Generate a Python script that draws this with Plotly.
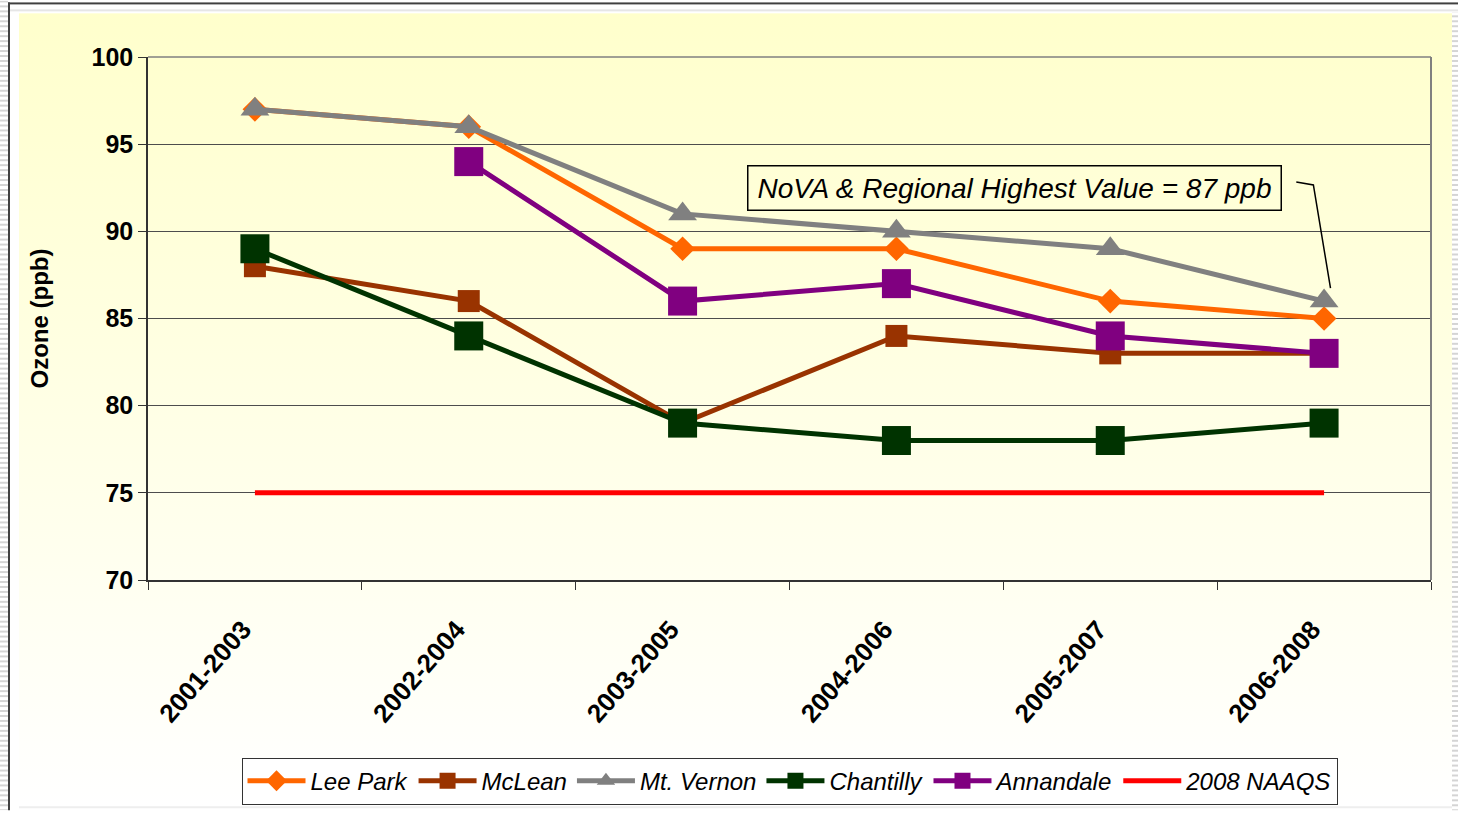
import base64
import plotly.graph_objects as go

periods = ["2001-2003", "2002-2004", "2003-2005", "2004-2006", "2005-2007", "2006-2008"]
lee_park = [97, 96, 89, 89, 86, 85]
mclean = [88, 86, 79, 84, 83, 83]
mt_vernon = [97, 96, 91, 90, 89, 86]
chantilly = [89, 84, 79, 78, 78, 79]
annandale = [None, 94, 86, 87, 84, 83]
naaqs = [75, 75, 75, 75, 75, 75]
y_ticks = [70, 75, 80, 85, 90, 95, 100]

W, H = 1458, 816
ML, MR, MT, MB = 148, 27, 57, 232
PW, PH = W - ML - MR, H - MT - MB

FONT = "Liberation Sans, Arial, sans-serif"

svg = f'''<svg xmlns="http://www.w3.org/2000/svg" width="{W}" height="{H}" viewBox="0 0 {W} {H}" preserveAspectRatio="none">
<defs>
<linearGradient id="g" x1="0" y1="0" x2="0" y2="1">
<stop offset="0" stop-color="#FFFFCC"/>
<stop offset="1" stop-color="#FFFFFF"/>
</linearGradient>
<pattern id="s" x="0" y="0" width="10" height="5" patternUnits="userSpaceOnUse">
<rect x="0" y="0" width="10" height="2" fill="#D4D4D4"/>
</pattern>
</defs>
<rect x="0" y="0" width="{W}" height="{H}" fill="#FFFFFF"/>
<rect x="0" y="0" width="8" height="{H}" fill="url(#s)"/>
<rect x="1452" y="12" width="6" height="{H}" fill="url(#s)"/>
<rect x="8" y="2" width="{W-8}" height="2" fill="#404040"/>
<rect x="8" y="2" width="2" height="{H}" fill="#404040"/>
<rect x="10" y="9" width="{W-10}" height="2" fill="#E6E6E6"/>
<rect x="19" y="13" width="{1452-19}" height="{812-13}" fill="url(#g)"/>
<rect x="19" y="812" width="{1452-19}" height="2" fill="#EEEEEE"/>
</svg>'''
src = "data:image/svg+xml;base64," + base64.b64encode(svg.encode()).decode()

series = [
    ("Lee Park", lee_park, "#FF6600", "diamond", 19),
    ("McLean", mclean, "#993300", "square", 22),
    ("Mt. Vernon", mt_vernon, "#808080", "triangle-up", 25),
    ("Chantilly", chantilly, "#003300", "square", 29),
    ("Annandale", annandale, "#800080", "square", 29),
]

fig = go.Figure()
for name, vals, col, sym, sz in series:
    fig.add_trace(go.Scatter(
        x=periods, y=vals, name=name, mode="lines+markers",
        line=dict(color=col, width=5),
        marker=dict(symbol=sym, size=sz, color=col, line=dict(width=0)),
    ))
fig.add_trace(go.Scatter(
    x=periods, y=naaqs, name="2008 NAAQS", mode="lines",
    line=dict(color="#FF0000", width=5),
))

fig.update_layout(
    width=W, height=H,
    margin=dict(l=ML, r=MR, t=MT, b=MB),
    paper_bgcolor="white",
    plot_bgcolor="rgba(0,0,0,0)",
    font=dict(family=FONT, color="black"),
    showlegend=True,
    legend=dict(
        orientation="h", x=0.5, xanchor="center", y=1 - (763 - MT) / PH, yanchor="top",
        bgcolor="white", bordercolor="#333333", borderwidth=1,
        font=dict(family=FONT, size=24, style="italic", color="black"),
        itemwidth=58, tracegroupgap=0,
    ),
    images=[dict(
        source=src, xref="paper", yref="paper",
        x=-ML / PW, y=1 + MT / PH, sizex=W / PW, sizey=H / PH,
        xanchor="left", yanchor="top", sizing="stretch", layer="below",
    )],
    xaxis=dict(
        type="category", range=[-0.5, 5.5], tickson="boundaries",
        ticks="outside", ticklen=8, tickcolor="#333333",
        showline=True, linecolor="#333333", linewidth=1.5,
        showgrid=False, tickangle=-49, ticklabelstandoff=22, ticklabelshift=-12,
        tickfont=dict(family=FONT, size=26, weight="bold", color="black"),
    ),
    yaxis=dict(
        range=[70, 100], tickvals=y_ticks, ticks="outside", ticklen=8,
        tickcolor="#333333", showline=True, linecolor="#333333", linewidth=1.5,
        showgrid=True, gridcolor="#4D4D4D", gridwidth=1, zeroline=False,
        tickfont=dict(family=FONT, size=25, weight="bold", color="black"),
        title=dict(text="Ozone (ppb)", standoff=36,
                   font=dict(family=FONT, size=24, weight="bold", color="black")),
    ),
    shapes=[
        dict(type="line", xref="paper", yref="paper", x0=1, x1=1, y0=0, y1=1,
             line=dict(color="#808080", width=2)),
        dict(type="line", xref="paper", yref="paper", x0=0, x1=1, y0=1, y1=1,
             line=dict(color="#808080", width=1.5)),
        dict(type="path", xref="x", yref="y",
             path="M 4.87,92.83 L 4.95,92.66 L 5.03,86.74",
             line=dict(color="black", width=1.5)),
    ],
    annotations=[dict(
        text="NoVA & Regional Highest Value = 87 ppb",
        xref="x", yref="y", x=3.55, y=92.51, showarrow=False,
        font=dict(family=FONT, size=28, style="italic", color="black"),
        bordercolor="black", borderwidth=1.5, borderpad=6, width=520,
        bgcolor="rgba(0,0,0,0)",
    )],
)

fig.write_html("out.html", config={"displayModeBar": False},
               post_script="document.body.style.margin='0';")
